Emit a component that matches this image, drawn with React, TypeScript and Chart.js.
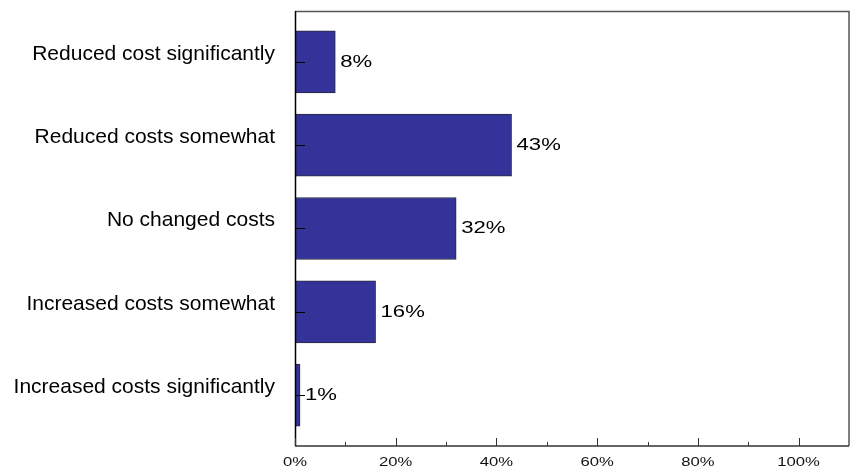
import React, { useEffect, useRef } from 'react';
import { Chart, registerables } from 'chart.js';

Chart.register(...registerables);

const categories = [
  'Reduced cost significantly',
  'Reduced costs somewhat',
  'No changed costs',
  'Increased costs somewhat',
  'Increased costs significantly',
];
const values = [8, 43, 32, 16, 1];
const xMajorTicks = [0, 20, 40, 60, 80, 100];
const xMinorTicks = [10, 30, 50, 70, 90];
const xMax = 110;

const FONT = 'Arial, "Liberation Sans", sans-serif';

export default function App() {
  const ref = useRef<HTMLCanvasElement>(null);

  useEffect(() => {
    document.body.style.margin = '0';
    const canvas = ref.current!;

    const decorations = {
      id: 'decorations',
      afterDatasetsDraw(chart: any) {
        const { ctx, chartArea } = chart;
        const { left, right, top, bottom } = chartArea;
        const xs = chart.scales.x;
        const ys = chart.scales.y;
        ctx.save();
        // frame
        ctx.lineWidth = 1.5;
        ctx.strokeStyle = '#555';
        ctx.beginPath();
        ctx.moveTo(left, top + 0.5);
        ctx.lineTo(right, top + 0.5);
        ctx.lineTo(right, bottom);
        ctx.stroke();
        ctx.lineWidth = 1.5;
        ctx.strokeStyle = '#333';
        ctx.beginPath();
        ctx.moveTo(left, bottom);
        ctx.lineTo(right, bottom);
        ctx.stroke();
        ctx.strokeStyle = '#000';
        ctx.beginPath();
        ctx.moveTo(left + 0.5, top);
        ctx.lineTo(left + 0.5, bottom);
        ctx.stroke();

        // inward x ticks
        ctx.lineWidth = 1;
        ctx.strokeStyle = '#333';
        xMajorTicks.forEach((v) => {
          const px = Math.round(xs.getPixelForValue(v)) + 0.5;
          ctx.beginPath();
          ctx.moveTo(px, bottom);
          ctx.lineTo(px, bottom - 8);
          ctx.stroke();
        });
        xMinorTicks.forEach((v) => {
          const px = Math.round(xs.getPixelForValue(v)) + 0.5;
          ctx.beginPath();
          ctx.moveTo(px, bottom);
          ctx.lineTo(px, bottom - 4);
          ctx.stroke();
        });
        // inward y ticks
        ctx.strokeStyle = '#000';
        categories.forEach((_, i) => {
          const py = Math.round(ys.getPixelForValue(i)) + 0.5;
          ctx.beginPath();
          ctx.moveTo(left, py);
          ctx.lineTo(left + 10, py);
          ctx.stroke();
        });

        // x tick labels (horizontally stretched like reference)
        ctx.fillStyle = '#111';
        ctx.font = `13px ${FONT}`;
        ctx.textAlign = 'center';
        ctx.textBaseline = 'alphabetic';
        xMajorTicks.forEach((v) => {
          const px = xs.getPixelForValue(v);
          ctx.save();
          ctx.translate(px, bottom + 20);
          ctx.scale(1.28, 1);
          ctx.fillText(`${v}%`, 0, 0);
          ctx.restore();
        });

        // data labels
        const meta = chart.getDatasetMeta(0);
        ctx.font = `17px ${FONT}`;
        ctx.textAlign = 'left';
        ctx.textBaseline = 'middle';
        ctx.fillStyle = '#000';
        meta.data.forEach((el: any, i: number) => {
          ctx.save();
          ctx.translate(el.x + 5, el.y);
          ctx.scale(1.3, 1);
          ctx.fillText(`${values[i]}%`, 0, 0);
          ctx.restore();
        });
        ctx.restore();
      },
    };

    const chart = new Chart(canvas, {
      type: 'bar',
      data: {
        datasets: [
          {
            data: values.map((v, i) => ({ x: v, y: i })),
            backgroundColor: '#333399',
            borderColor: '#2a2a3a',
            borderWidth: 1,
            barThickness: 62,
          },
        ],
      },
      options: {
        indexAxis: 'y',
        animation: false,
        responsive: false,
        layout: { padding: { top: 11, right: 4, left: 0, bottom: 0 } },
        plugins: { legend: { display: false }, tooltip: { enabled: false } },
        scales: {
          x: {
            type: 'linear',
            min: 0,
            max: xMax,
            offset: false,
            grid: { display: false, drawTicks: false },
            border: { display: false },
            ticks: { display: false },
            afterFit(s: any) {
              s.height = 22;
              s.paddingLeft = 0;
              s.paddingRight = 0;
            },
          },
          y: {
            type: 'linear',
            min: -0.61,
            max: categories.length - 1 + 0.61,
            reverse: true,
            offset: false,
            grid: { display: false, drawTicks: false },
            border: { display: false },
            ticks: {
              stepSize: 1,
              autoSkip: false,
              padding: 20,
              labelOffset: -8,
              color: '#000',
              font: { family: FONT, size: 21 },
              callback: (v: any) =>
                Number.isInteger(v) && categories[v] !== undefined ? categories[v] : '',
            },
            afterFit(s: any) {
              s.width = 295;
              s.paddingTop = 0;
              s.paddingBottom = 0;
            },
          },
        },
      },
      plugins: [decorations],
    } as any);

    return () => chart.destroy();
  }, []);

  return <canvas ref={ref} width={853} height={468} style={{ display: 'block' }} />;
}
